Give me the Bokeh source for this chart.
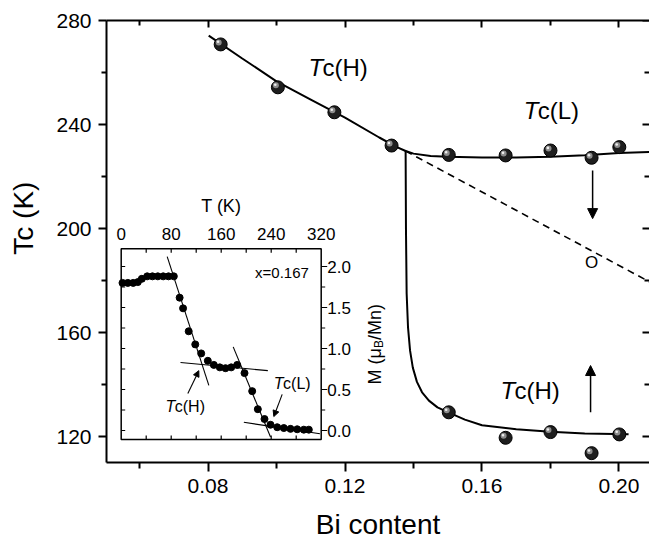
import math
from bokeh.plotting import figure
from bokeh.models import Range1d, LinearAxis, FixedTicker, Label, Arrow, NormalHead
from bokeh.core.properties import value
from bokeh.embed import file_html
from bokeh.resources import INLINE

FONT = "Liberation Sans"

# ---------------- main panel data ----------------
bi_hi = [0.0837, 0.1004, 0.1169, 0.1336, 0.1503, 0.1669, 0.1800, 0.1920, 0.2001]
tc_hi = [270.8, 254.3, 244.7, 231.9, 228.3, 228.1, 230.0, 227.2, 231.3]
bi_lo = [0.1503, 0.1669, 0.1800, 0.1920, 0.2001]
tc_lo = [129.3, 119.5, 121.7, 113.6, 120.8]

fit_hi_x = [0.0802, 0.0900, 0.1000, 0.1100, 0.1200, 0.1300, 0.1350, 0.1377, 0.1400,
            0.1450, 0.1500, 0.1600, 0.1700, 0.1800, 0.1900, 0.2000, 0.2089]
fit_hi_y = [274.2, 265.4, 256.6, 249.6, 242.6, 235.0, 231.4, 229.8, 228.8,
            227.9, 227.6, 227.3, 227.3, 227.6, 228.2, 229.0, 229.4]
fit_lo_x = [0.1377, 0.1378, 0.1380, 0.1384, 0.1390, 0.1398, 0.1410, 0.1425, 0.1445,
            0.1470, 0.1500, 0.1550, 0.1600, 0.1700, 0.1800, 0.1900, 0.2028]
fit_lo_y = [229.8, 200.0, 175.0, 162.0, 153.0, 146.5, 141.0, 137.0, 133.8,
            131.2, 129.4, 126.5, 124.3, 122.8, 121.8, 121.2, 120.9]
dash_x = [0.1377, 0.2089]
dash_y = [229.8, 179.5]

arrow_down = [0.1923, 222.3, 0.1923, 203.8]   # x0, y0, x1, y1
arrow_up = [0.1917, 129.3, 0.1917, 147.3]
o_mark = [0.1920, 187.0]

x_lim = [0.05036, 0.20891]
y_lim = [110.0, 280.0]
x_ticks = [0.08, 0.12, 0.16, 0.20]
x_tick_labels = ["0.08", "0.12", "0.16", "0.20"]
x_minor = [0.06, 0.10, 0.14, 0.18]
y_ticks = [120, 160, 200, 240, 280]
y_tick_labels = ["120", "160", "200", "240", "280"]
y_minor = [140, 180, 220, 260]

# ---------------- inset data ----------------
T_K = [2.1, 10.6, 19.2, 26.6, 33.0, 41.6, 50.0, 58.6, 67.2, 75.7, 84.2,
       93.5, 99.0, 108.0, 118.5, 128.0, 138.6, 148.2, 157.8, 166.9, 176.0,
       185.6, 197.3, 209.6, 218.6, 229.3, 238.9, 249.6, 260.2, 270.9, 281.6,
       292.2, 300.2]
M_mu = [1.80, 1.80, 1.80, 1.81, 1.85, 1.88, 1.88, 1.88, 1.88, 1.88, 1.88,
        1.62, 1.49, 1.21, 1.05, 0.94, 0.85, 0.80, 0.77, 0.76, 0.77,
        0.80, 0.70, 0.48, 0.26, 0.14, 0.07, 0.04, 0.03, 0.02, 0.015,
        0.01, 0.01]
tan_T = [[73.6, 140.2], [94.9, 234.6], [179.2, 238.9], [196.2, 318.0]]
tan_M = [[2.12, 0.55], [0.83, 0.73], [1.02, -0.08], [0.10, -0.04]]
T_lim = [0.0, 320.0]
M_lim = [-0.11, 2.215]
T_ticks = [40, 80, 120, 160, 200, 240, 280]
T_label_vals = [0, 80, 160, 240, 320]
T_labels = ["0", "80", "160", "240", "320"]
M_ticks = [0.0, 0.25, 0.5, 0.75, 1.0, 1.25, 1.5, 1.75, 2.0]
M_major = [0.0, 0.5, 1.0, 1.5, 2.0]
M_minor = [0.25, 0.75, 1.25, 1.75]
M_labels = ["0.0", "0.5", "1.0", "1.5", "2.0"]
inset_arrow_H = [106.6, 0.45, 124.2, 0.73]
inset_arrow_L = [257.6, 0.44, 244.2, 0.17]

# pixel scale helpers (inset drawn on extra ranges of the main frame)
FRAME_L, FRAME_R, FRAME_T, FRAME_B = 106, 649, 20, 462
T_PER_PX = 1.6
M_PER_PX = 1.0 / 82.0
INSET_X0_PX = 120.7
INSET_M0_PX = 430.0
X_PER_PX = (x_lim[1] - x_lim[0]) / (FRAME_R - FRAME_L)
Y_PER_PX = (y_lim[1] - y_lim[0]) / (FRAME_B - FRAME_T)

p = figure(width=649, height=542, output_backend="svg", toolbar_location=None,
           x_range=Range1d(*x_lim), y_range=Range1d(*y_lim),
           min_border_left=FRAME_L, min_border_right=0, min_border_top=FRAME_T,
           min_border_bottom=542 - FRAME_B, outline_line_color=None,
           background_fill_color="white", border_fill_color="white")
p.grid.visible = False

p.extra_x_ranges = {"T": Range1d((FRAME_L - INSET_X0_PX) * T_PER_PX,
                                 (FRAME_R - INSET_X0_PX) * T_PER_PX)}
p.extra_y_ranges = {"M": Range1d((INSET_M0_PX - FRAME_B) * M_PER_PX,
                                 (INSET_M0_PX - FRAME_T) * M_PER_PX)}

def style_axis(ax, tin, tout, mtin, mtout, labels=True):
    ax.axis_line_width = 2
    ax.axis_line_color = "black"
    ax.major_tick_line_width = 2
    ax.minor_tick_line_width = 2
    ax.major_tick_in = tin
    ax.major_tick_out = tout
    ax.minor_tick_in = mtin
    ax.minor_tick_out = mtout
    ax.major_label_text_font = FONT
    ax.major_label_text_color = "black"
    if labels:
        ax.major_label_text_font_size = "21px"
        ax.major_label_standoff = 7
    else:
        ax.major_label_text_font_size = "0px"
        ax.major_label_standoff = 0

xt = FixedTicker(ticks=x_ticks, minor_ticks=x_minor)
yt = FixedTicker(ticks=y_ticks, minor_ticks=y_minor)
p.xaxis.ticker = xt
p.yaxis.ticker = yt
p.xaxis.major_label_overrides = dict(zip(x_ticks, x_tick_labels))
p.yaxis.major_label_overrides = dict(zip(y_ticks, y_tick_labels))
style_axis(p.xaxis[0], 0, 9, 0, 6)
style_axis(p.yaxis[0], 0, 8, 0, 5)
# leading no-break spaces lift the rotated y title a little, as in the reference
for ax, lab, so in ((p.xaxis[0], "Bi content", 13),
                    (p.yaxis[0], "\u00a0" * 6 + "Tc (K)", 14)):
    ax.axis_label = lab
    ax.axis_label_text_font = FONT
    ax.axis_label_text_font_size = "28px"
    ax.axis_label_text_font_style = "normal"
    ax.axis_label_text_color = "black"
    ax.axis_label_standoff = so

top = LinearAxis(ticker=FixedTicker(ticks=x_ticks, minor_ticks=x_minor))
style_axis(top, 7, 0, 5, 0, labels=False)
top.major_label_overrides = {t: "" for t in x_ticks}
p.add_layout(top, "above")

# right-side inward ticks (frame edge is at the picture border)
p.ray(x=[x_lim[1]] * len(y_ticks), y=y_ticks, length=7, angle=math.pi,
      length_units="screen", line_color="black", line_width=2)
p.ray(x=[x_lim[1]] * len(y_minor), y=y_minor, length=5, angle=math.pi,
      length_units="screen", line_color="black", line_width=2)

# ---------------- main curves ----------------
p.line(fit_hi_x, fit_hi_y, line_color="black", line_width=2)
p.line(fit_lo_x, fit_lo_y, line_color="black", line_width=2)
p.line(dash_x, dash_y, line_color="black", line_width=1.6, line_dash="7 5")

def balls(xs, ys):
    p.scatter(xs, ys, size=13, fill_color="#1e1e1e", line_color="black", line_width=1)
    hx = [x - 2.0 * X_PER_PX for x in xs]
    hy = [y + 2.0 * Y_PER_PX for y in ys]
    p.scatter(hx, hy, size=6, fill_color="#8c8c8c", line_color=None)
    hx2 = [x - 2.6 * X_PER_PX for x in xs]
    hy2 = [y + 2.6 * Y_PER_PX for y in ys]
    p.scatter(hx2, hy2, size=2.6, fill_color="#eeeeee", line_color=None)

balls(bi_hi, tc_hi)
balls(bi_lo, tc_lo)

for a in (arrow_down, arrow_up):
    p.add_layout(Arrow(x_start=a[0], y_start=a[1], x_end=a[2], y_end=a[3],
                       line_width=1.5, line_color="black",
                       end=NormalHead(size=10, fill_color="black", line_color="black")))

p.add_layout(Label(x=o_mark[0], y=o_mark[1], text="O", text_align="center",
                   text_baseline="middle", text_font=FONT, text_font_size="17px",
                   text_color="black"))

def tc_label(x, y, sub, size, xr=None, yr=None):
    kw = {}
    if xr:
        kw = dict(x_range_name=xr, y_range_name=yr)
    w = 0.58 * size
    p.add_layout(Label(x=x, y=y, text="T", text_font=FONT, text_font_size=f"{size}px",
                       text_font_style="italic", text_baseline="middle", text_align="left",
                       text_color="black", **kw))
    p.add_layout(Label(x=x, y=y, x_offset=w, text="c(" + sub + ")", text_font=FONT,
                       text_font_size=f"{size}px", text_baseline="middle",
                       text_align="left", text_color="black", **kw))

tc_label(0.10934, 262.0, "H", 24)
tc_label(0.1722, 245.4, "L", 24)
tc_label(0.1654, 137.7, "H", 24)

# ---------------- inset ----------------
R = dict(x_range_name="T", y_range_name="M")
p.quad(left=T_lim[0], right=T_lim[1], bottom=M_lim[0], top=M_lim[1],
       fill_color="white", line_color="black", line_width=1.5, **R)
p.multi_line(tan_T, tan_M, line_color="black", line_width=1.1, **R)
p.scatter(T_K, M_mu, size=7, fill_color="black", line_color="black", **R)

p.ray(x=T_ticks, y=[M_lim[1]] * len(T_ticks), length=4, angle=-math.pi / 2,
      length_units="screen", line_color="black", line_width=1.2, **R)
p.ray(x=T_ticks, y=[M_lim[0]] * len(T_ticks), length=4, angle=math.pi / 2,
      length_units="screen", line_color="black", line_width=1.2, **R)
p.ray(x=[T_lim[0]] * len(M_ticks), y=M_ticks, length=4, angle=0,
      length_units="screen", line_color="black", line_width=1.2, **R)
p.ray(x=[T_lim[1]] * len(M_major), y=M_major, length=6, angle=0,
      length_units="screen", line_color="black", line_width=1.2, **R)
p.ray(x=[T_lim[1]] * len(M_minor), y=M_minor, length=4, angle=0,
      length_units="screen", line_color="black", line_width=1.2, **R)

p.text(x=T_label_vals, y=[M_lim[1] + 14.7 * M_PER_PX] * len(T_label_vals), text=T_labels,
       text_align="center", text_baseline="middle", text_font=value(FONT),
       text_font_size="17px", text_color="black", **R)
p.text(x=[T_lim[1] + 6 * T_PER_PX] * len(M_major), y=M_major, text=M_labels,
       text_align="left", text_baseline="middle", text_font=value(FONT),
       text_font_size="17px", text_color="black", **R)
p.add_layout(Label(x=160, y=M_lim[1] + 43 * M_PER_PX, text="T (K)", text_align="center",
                   text_baseline="middle", text_font=FONT, text_font_size="18px",
                   text_color="black", **R))
p.add_layout(Label(x=300.3, y=1.93, text="x=0.167", text_align="right",
                   text_baseline="middle", text_font=FONT, text_font_size="15px",
                   text_color="black", **R))

# rotated M (muB/Mn) label built from pieces
m_mid = (M_lim[0] + M_lim[1]) / 2
base_T = (374.4 - INSET_X0_PX) * T_PER_PX
sub_T = (378.4 - INSET_X0_PX) * T_PER_PX
pieces = [("M (\u03bc", base_T, -40.2, "18px"),
          ("B", sub_T, -40.2 + 36.4, "12px"),
          ("/Mn)", base_T, -40.2 + 36.4 + 8.0, "18px")]
for txt, tx, off, fs in pieces:
    p.add_layout(Label(x=tx, y=m_mid + off * M_PER_PX, text=txt, angle=math.pi / 2,
                       text_align="left", text_baseline="alphabetic",
                       text_font=FONT, text_font_size=fs, text_color="black", **R))

tc_label(70.9, 0.293, "H", 16, "T", "M")
tc_label(244.2, 0.57, "L", 16, "T", "M")
for a in (inset_arrow_H, inset_arrow_L):
    p.add_layout(Arrow(x_start=a[0], y_start=a[1], x_end=a[2], y_end=a[3],
                       line_width=1.1, line_color="black",
                       end=NormalHead(size=6, fill_color="black", line_color="black"), **R))

open("out.html", "w").write(file_html(p, INLINE))
